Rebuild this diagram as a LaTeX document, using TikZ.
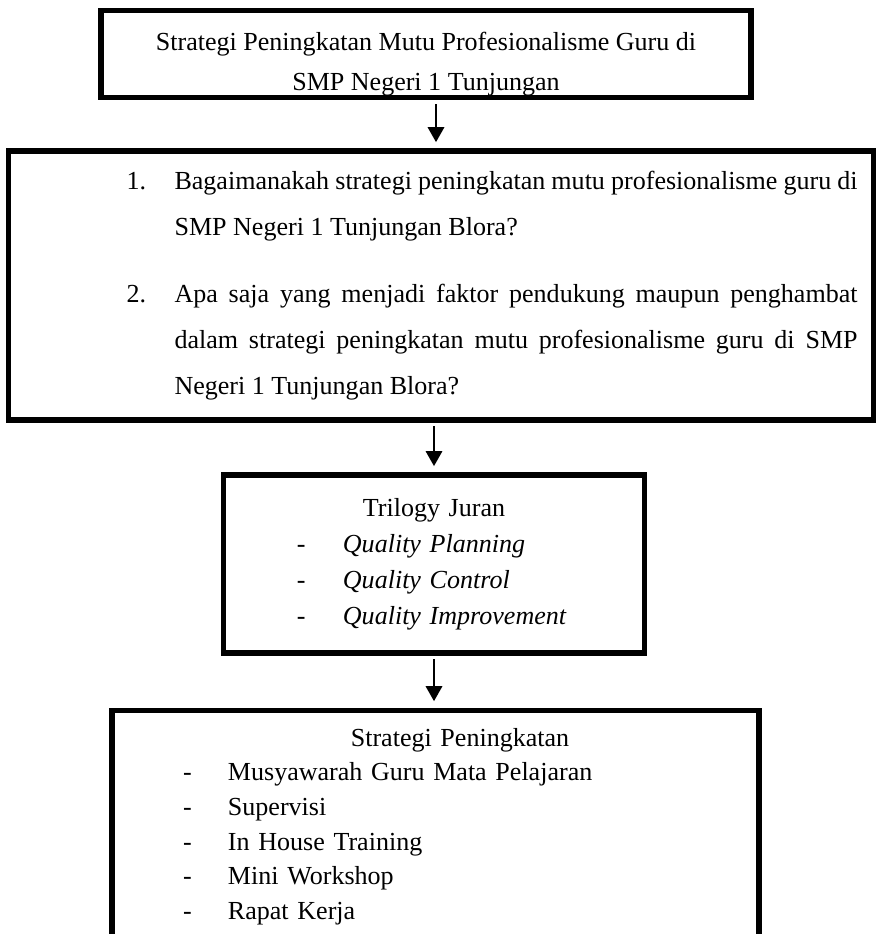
\documentclass[tikz,border=0pt]{standalone}
\usepackage{fontspec}
\setmainfont{Liberation Serif}
\usepackage{tikz}
\usetikzlibrary{arrows.meta}

\begin{document}
\begin{tikzpicture}[x=0.3937pt,y=-0.3937pt,
    box/.style={draw,line width=2pt,inner sep=0pt},
    arr/.style={-{Triangle[width=6.5pt,length=5.9pt]},line width=0.65pt,shorten <=1.5pt,shorten >=2.5pt}]
\useasboundingbox (0,0) rectangle (875,934);

% Topic
\node[box,minimum width=255.9pt,minimum height=34.6pt,align=center,text height=30.8pt,
      font=\fontsize{10.25pt}{15.5pt}\selectfont] (topik) at (426,54)
    {Strategi Peningkatan Mutu Profesionalisme Guru di\\SMP Negeri 1 Tunjungan};

% Research questions
\node[box,minimum width=340.2pt,minimum height=105.9pt,text width=328pt,align=justify,
      font=\fontsize{10.25pt}{18.1pt}\selectfont] (rumusan) at (441,285.5)
    {\leftskip=40.2pt \spaceskip=.25em plus .6em minus .1em \tolerance=9999
     \hangindent=18.9pt\hangafter=1\noindent\makebox[18.9pt][l]{1.}Bagaimanakah strategi peningkatan mutu profesionalisme guru di\linebreak SMP Negeri 1 Tunjungan Blora?\par
     \vspace{8.3pt}
     \hangindent=18.9pt\hangafter=1\noindent\makebox[18.9pt][l]{2.}Apa saja yang menjadi faktor pendukung maupun penghambat\linebreak dalam strategi peningkatan mutu profesionalisme guru di SMP\linebreak Negeri 1 Tunjungan Blora?\par};

% Theory
\node[box,minimum width=166.1pt,minimum height=70.1pt,text width=107.9pt,align=left,
      font=\fontsize{10.25pt}{14.2pt}\selectfont] (trilogi) at (434,564)
    {\makebox[\linewidth]{Trilogy Juran}\\
     \makebox[18.1pt][l]{-}\textit{Quality Planning}\\
     \makebox[18.1pt][l]{-}\textit{Quality Control}\\
     \makebox[18.1pt][l]{-}\textit{Quality Improvement}};

% Strategies
\node[box,minimum width=254.7pt,minimum height=91.7pt,text width=198.8pt,align=left,
      font=\fontsize{10.25pt}{13.6pt}\selectfont] (strategi) at (435.5,826.5)
    {\makebox[\linewidth]{\hspace{19.3pt}Strategi Peningkatan}\\
     \makebox[17.7pt][l]{-}Musyawarah Guru Mata Pelajaran\\
     \makebox[17.7pt][l]{-}Supervisi\\
     \makebox[17.7pt][l]{-}In House Training\\
     \makebox[17.7pt][l]{-}Mini Workshop\\
     \makebox[17.7pt][l]{-}Rapat Kerja};

% Arrows
\coordinate (poros) at (436,0);
\draw[arr] (topik.south -| poros) -- (rumusan.north -| poros);
\draw[arr] (rumusan.south -| trilogi.north) -- (trilogi.north);
\draw[arr] (trilogi.south) -- (trilogi.south |- strategi.north);
\end{tikzpicture}
\end{document}
